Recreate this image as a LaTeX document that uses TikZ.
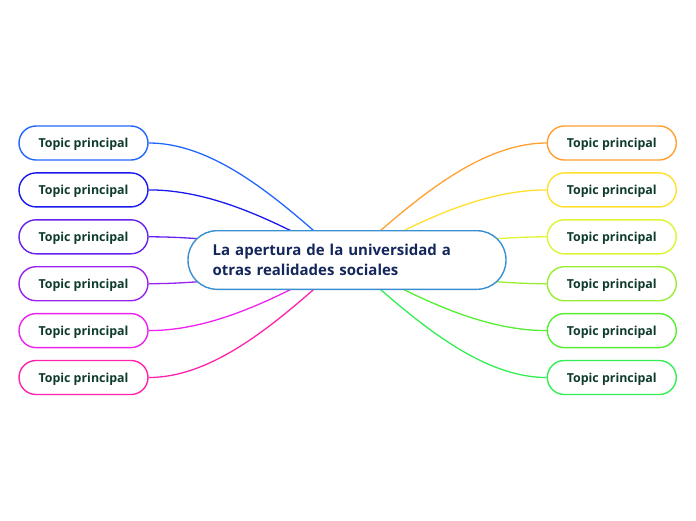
\documentclass[tikz,border=0pt]{standalone}
\usepackage{fontspec}
\setmainfont{Open Sans}
\usetikzlibrary{positioning}
\definecolor{cnavy}{HTML}{14275C}
\definecolor{cgreen}{HTML}{0E3B2E}
\definecolor{cmain}{HTML}{3A8FD0}
\definecolor{cla}{HTML}{2266FF}
\definecolor{clb}{HTML}{1A1AEE}
\definecolor{clc}{HTML}{6622EE}
\definecolor{cld}{HTML}{9922EE}
\definecolor{cle}{HTML}{EE22EE}
\definecolor{clf}{HTML}{FF22AA}
\definecolor{cra}{HTML}{FFA030}
\definecolor{crb}{HTML}{FFE030}
\definecolor{crc}{HTML}{DDF533}
\definecolor{crd}{HTML}{99EE33}
\definecolor{cre}{HTML}{55EE33}
\definecolor{crf}{HTML}{33EE55}
\tikzset{
  topic/.style={draw, line width=1.4pt, fill=white, rounded corners=17pt, minimum width=129pt, minimum height=34pt, inner sep=0pt, text depth=0pt, text=cgreen, font=\bfseries\fontsize{12.4}{15}\selectfont},
  central/.style={draw=cmain, line width=1.4pt, fill=white, rounded corners=29pt, minimum width=318pt, minimum height=58.6pt, inner xsep=24.7pt, inner ysep=0pt, text width=268.6pt, text=cnavy, align=left, font=\bfseries\fontsize{15}{19.5}\selectfont},
  link/.style={line width=1.3pt},
}

\begin{document}
\begin{tikzpicture}[x=1pt, y=-1pt, node distance=11.5pt and 397.9pt]
    \useasboundingbox (0,0) rectangle (696,520);
    \node[topic, draw=cla] (l1) at (83.5,143) {Topic principal};
    \node[topic, draw=clb, below=of l1] (l2) {Topic principal};
    \node[topic, draw=clc, below=of l2] (l3) {Topic principal};
    \node[topic, draw=cld, below=of l3] (l4) {Topic principal};
    \node[topic, draw=cle, below=of l4] (l5) {Topic principal};
    \node[topic, draw=clf, below=of l5] (l6) {Topic principal};
    \node[topic, draw=cra, right=of l1] (r1) {Topic principal};
    \node[topic, draw=crb, right=of l2] (r2) {Topic principal};
    \node[topic, draw=crc, right=of l3] (r3) {Topic principal};
    \node[topic, draw=crd, right=of l4] (r4) {Topic principal};
    \node[topic, draw=cre, right=of l5] (r5) {Topic principal};
    \node[topic, draw=crf, right=of l6] (r6) {Topic principal};
    \coordinate (hub) at (347,260);
    % connectors, drawn before the central node so it covers their ends
    \draw[link, cla] (l1.east) .. controls +(72,0) and +(-57,-50) .. (hub);
    \draw[link, clb] (l2.east) .. controls +(72,0) and +(-57,-30) .. (hub);
    \draw[link, clc] (l3.east) .. controls +(72,0) and +(-57,-10) .. (hub);
    \draw[link, cld] (l4.east) .. controls +(72,0) and +(-57,10) .. (hub);
    \draw[link, cle] (l5.east) .. controls +(72,0) and +(-57,30) .. (hub);
    \draw[link, clf] (l6.east) .. controls +(72,0) and +(-57,50) .. (hub);
    \draw[link, cra] (r1.west) .. controls +(-72,0) and +(57,-50) .. (hub);
    \draw[link, crb] (r2.west) .. controls +(-72,0) and +(57,-30) .. (hub);
    \draw[link, crc] (r3.west) .. controls +(-72,0) and +(57,-10) .. (hub);
    \draw[link, crd] (r4.west) .. controls +(-72,0) and +(57,10) .. (hub);
    \draw[link, cre] (r5.west) .. controls +(-72,0) and +(57,30) .. (hub);
    \draw[link, crf] (r6.west) .. controls +(-72,0) and +(57,50) .. (hub);
    \node[central] (main) at (hub) {La apertura de la universidad a\\otras realidades sociales};
  \end{tikzpicture}
\end{document}
